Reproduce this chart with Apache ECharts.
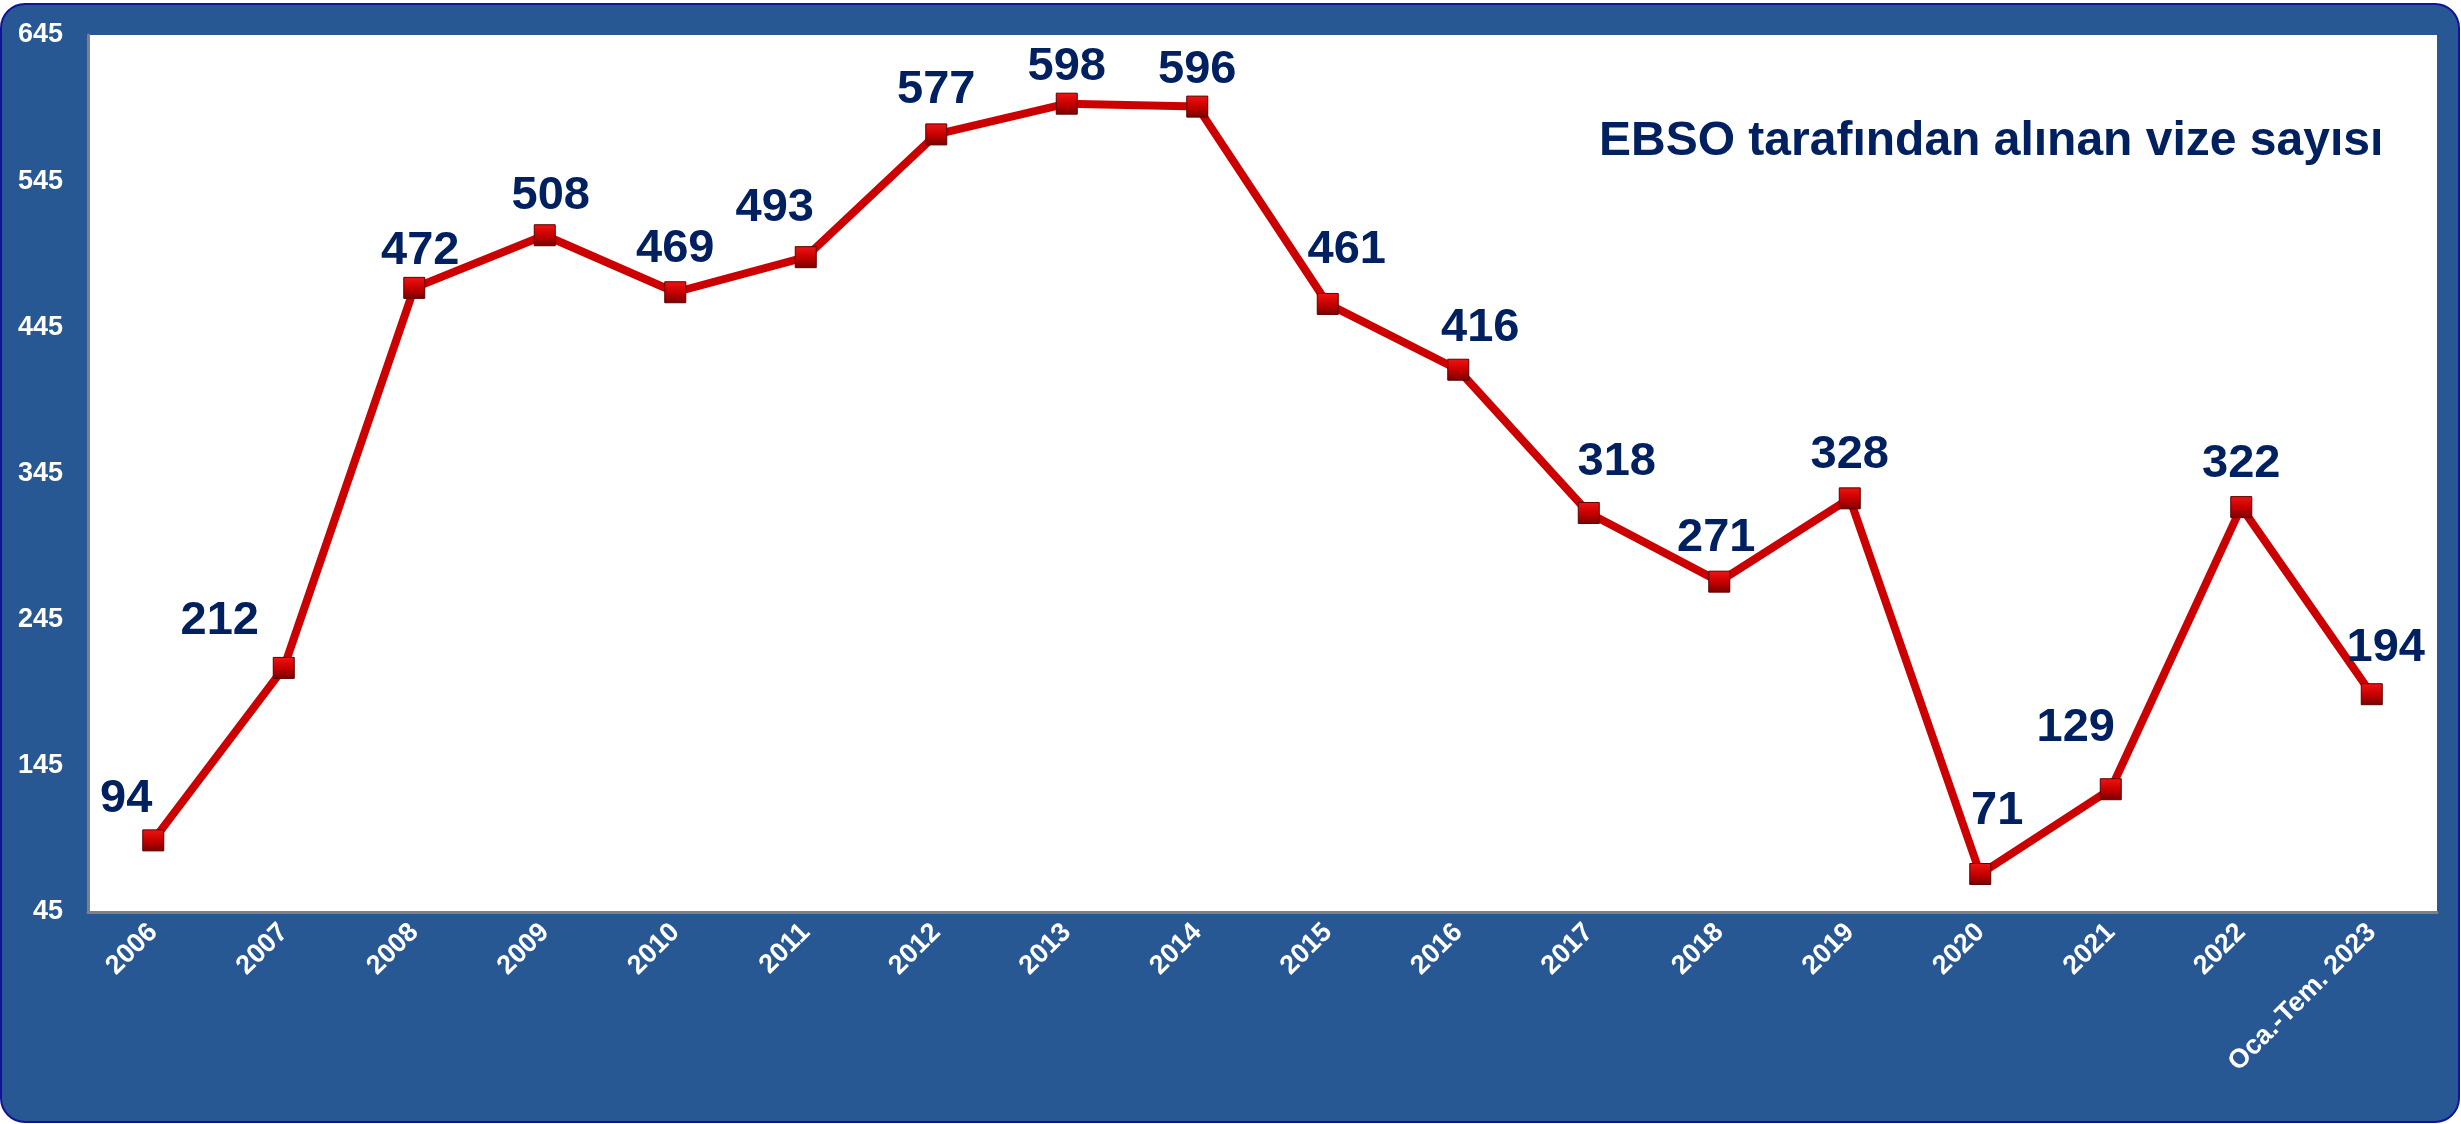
<!DOCTYPE html>
<html>
<head>
<meta charset="utf-8">
<title>EBSO vize sayısı</title>
<script src="https://cdn.jsdelivr.net/npm/echarts@6/dist/echarts.min.js"></script>
<style>
    html, body { margin: 0; padding: 0; background: #fff; }
    #main { width: 2461px; height: 1124px; }
</style>
</head>
<body>
<div id="main"></div>
<script type="text/javascript">
    // veriler
    var years = ['2006', '2007', '2008', '2009', '2010', '2011', '2012', '2013', '2014',
        '2015', '2016', '2017', '2018', '2019', '2020', '2021', '2022', 'Oca.-Tem. 2023'];
    var vizeSayisi = [94, 212, 472, 508, 469, 493, 577, 598, 596,
        461, 416, 318, 271, 328, 71, 129, 322, 194];
    var yTicks = [45, 145, 245, 345, 445, 545, 645];
    var chartTitle = 'EBSO tarafından alınan vize sayısı';

    // etiketlerin noktaya göre kaydırılması (px)
    var labelShift = [[-27, -2], [-64, -7], [6, 3], [6, 0], [0, -4], [-31, -10],
        [0, -5], [0, 3], [0, 3], [19, -14], [22, -2], [28, -11], [-3, -4], [0, -4],
        [17, -23], [-35, -22], [0, -4], [14, -7]];

    var font = "'Liberation Sans', Arial, sans-serif";

    var myChart = echarts.init(document.getElementById('main'));
    var option = {
        backgroundColor: '#ffffff',
        animation: false,
        title: {
            text: chartTitle,
            left: 1594,
            top: 113,
            textStyle: {
                color: '#002060',
                fontFamily: font,
                fontWeight: 'bold',
                fontSize: 48
            }
        },
        graphic: [
            {
                type: 'rect',
                z: -10,
                silent: true,
                shape: {x: 1, y: 4, width: 2458, height: 1118, r: 24},
                style: {fill: '#285894', stroke: '#12129a', lineWidth: 2}
            }
        ],
        grid: {
            show: true,
            backgroundColor: '#ffffff',
            borderWidth: 0,
            left: 88,
            right: 24,
            top: 35,
            bottom: 212,
            containLabel: false,
            outerBoundsMode: 'none'
        },
        xAxis: {
            type: 'category',
            boundaryGap: true,
            data: years,
            axisLine: {lineStyle: {color: '#808080', width: 3}},
            axisTick: {show: false},
            splitLine: {show: false},
            axisLabel: {
                interval: 0,
                rotate: 45,
                margin: 16,
                color: '#ffffff',
                fontFamily: font,
                fontWeight: 'bold',
                fontSize: 27
            }
        },
        yAxis: {
            type: 'value',
            min: 45,
            max: 645,
            axisLine: {show: true, lineStyle: {color: '#808080', width: 3}},
            axisTick: {show: false},
            splitLine: {show: false},
            axisLabel: {
                customValues: yTicks,
                margin: 25,
                color: '#ffffff',
                fontFamily: font,
                fontWeight: 'bold',
                fontSize: 27
            }
        },
        series: [
            {
                name: 'vize',
                type: 'line',
                symbol: 'rect',
                symbolSize: 21,
                lineStyle: {color: '#cc0000', width: 8},
                itemStyle: {
                    color: {
                        type: 'linear', x: 0, y: 0, x2: 0, y2: 1,
                        colorStops: [
                            {offset: 0, color: '#f01414'},
                            {offset: 0.5, color: '#c80000'},
                            {offset: 1, color: '#780000'}
                        ]
                    },
                    borderColor: '#5a0000',
                    borderWidth: 1
                },
                label: {
                    show: true,
                    position: 'top',
                    distance: 5,
                    color: '#002060',
                    fontFamily: font,
                    fontWeight: 'bold',
                    fontSize: 47,
                    lineHeight: 47
                },
                data: vizeSayisi.map(function (v, i) {
                    return {value: v, label: {offset: labelShift[i]}};
                })
            }
        ]
    };
    myChart.setOption(option);
</script>
</body>
</html>
